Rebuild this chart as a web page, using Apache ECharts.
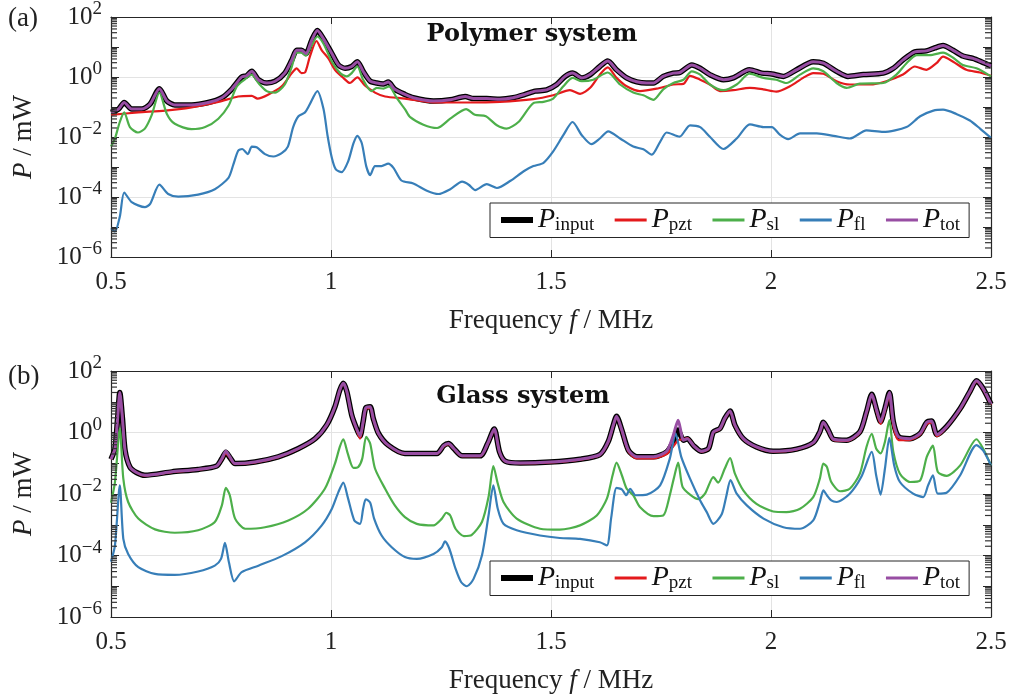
<!DOCTYPE html>
<html>
<head>
<meta charset="utf-8">
<script src="https://cdn.jsdelivr.net/npm/echarts@6/dist/echarts.min.js"></script>
<style>
  html, body { margin: 0; padding: 0; background: #fff; }
  #chart { width: 1010px; height: 696px; }
</style>
</head>
<body>
<div id="chart"></div>
<script>
// all power values are log10(P / mW)
var freqTicks = [0.5, 1, 1.5, 2, 2.5];
var seriesNames = ['input', 'pzt', 'sl', 'fl', 'tot'];
var seriesColors = ['#000000', '#e41a1c', '#4daf4a', '#377eb8', '#984ea3'];

// (a) polymer system
var polyTot = [[0.500,-1.18],[0.517,-1.07],[0.530,-0.85],[0.547,-1.07],[0.570,-1.07],[0.589,-0.90],[0.610,-0.39],[0.627,-0.80],[0.645,-0.93],[0.683,-0.93],[0.721,-0.85],[0.752,-0.69],[0.774,-0.41],[0.797,0.00],[0.808,0.04],[0.820,0.19],[0.835,-0.09],[0.854,-0.20],[0.873,-0.14],[0.895,0.13],[0.911,0.57],[0.922,0.89],[0.933,0.89],[0.943,0.78],[0.956,1.22],[0.969,1.55],[0.983,1.27],[1.002,0.78],[1.017,0.40],[1.032,0.29],[1.047,0.35],[1.060,0.51],[1.073,0.19],[1.089,-0.14],[1.104,-0.20],[1.119,-0.23],[1.130,-0.17],[1.145,-0.41],[1.168,-0.58],[1.187,-0.69],[1.233,-0.80],[1.271,-0.76],[1.305,-0.65],[1.324,-0.72],[1.354,-0.72],[1.384,-0.74],[1.414,-0.69],[1.441,-0.58],[1.464,-0.47],[1.490,-0.43],[1.513,-0.25],[1.532,0.02],[1.549,0.13],[1.570,-0.03],[1.589,0.08],[1.611,0.35],[1.629,0.53],[1.649,0.24],[1.672,-0.03],[1.695,-0.16],[1.717,-0.20],[1.733,-0.20],[1.755,0.02],[1.778,0.13],[1.793,0.15],[1.820,0.40],[1.839,0.29],[1.861,0.08],[1.892,-0.09],[1.914,-0.03],[1.951,0.24],[1.979,0.13],[2.002,0.10],[2.028,0.02],[2.058,0.24],[2.096,0.51],[2.119,0.46],[2.149,0.19],[2.175,0.02],[2.210,0.08],[2.255,0.13],[2.278,0.29],[2.300,0.57],[2.327,0.84],[2.353,0.87],[2.372,0.97],[2.391,1.05],[2.414,0.89],[2.436,0.70],[2.459,0.62],[2.478,0.51],[2.500,0.37]];
var polyPzt = [[0.500,-1.26],[0.562,-1.18],[0.623,-1.12],[0.683,-1.01],[0.744,-0.83],[0.789,-0.65],[0.820,-0.63],[0.833,-0.72],[0.858,-0.58],[0.888,-0.31],[0.911,0.13],[0.922,0.29],[0.933,0.13],[0.941,0.15],[0.952,0.68],[0.967,1.20],[0.979,0.89],[0.994,0.62],[1.009,0.24],[1.028,-0.03],[1.043,-0.20],[1.060,-0.01],[1.077,-0.28],[1.100,-0.52],[1.123,-0.65],[1.168,-0.72],[1.233,-0.85],[1.309,-0.85],[1.384,-0.83],[1.460,-0.74],[1.505,-0.61],[1.543,-0.44],[1.566,-0.56],[1.589,-0.36],[1.611,0.08],[1.629,0.32],[1.649,-0.03],[1.672,-0.31],[1.702,-0.47],[1.740,-0.39],[1.778,-0.25],[1.801,-0.23],[1.816,0.04],[1.839,-0.09],[1.861,-0.25],[1.884,-0.47],[1.914,-0.44],[1.952,-0.36],[1.982,-0.41],[2.012,-0.49],[2.043,-0.31],[2.073,-0.03],[2.096,0.13],[2.119,0.11],[2.149,-0.14],[2.179,-0.25],[2.225,-0.25],[2.262,-0.14],[2.300,0.08],[2.327,0.35],[2.353,0.24],[2.376,0.46],[2.391,0.68],[2.414,0.51],[2.444,0.24],[2.475,0.15],[2.500,0.04]];
var polySl = [[0.500,-2.32],[0.509,-2.05],[0.520,-1.50],[0.530,-1.18],[0.543,-1.67],[0.561,-1.85],[0.577,-1.72],[0.592,-1.29],[0.610,-0.52],[0.627,-1.23],[0.645,-1.56],[0.683,-1.74],[0.714,-1.67],[0.744,-1.39],[0.767,-0.96],[0.786,-0.31],[0.805,-0.07],[0.820,0.08],[0.835,-0.20],[0.854,-0.47],[0.873,-0.52],[0.895,-0.25],[0.911,0.35],[0.922,0.81],[0.933,0.81],[0.943,0.71],[0.956,1.06],[0.969,1.35],[0.983,1.11],[1.002,0.51],[1.021,0.13],[1.036,0.02],[1.047,0.13],[1.060,0.35],[1.073,-0.09],[1.092,-0.47],[1.104,-0.36],[1.119,-0.39],[1.132,-0.31],[1.149,-0.69],[1.168,-1.07],[1.180,-1.34],[1.210,-1.59],[1.241,-1.70],[1.271,-1.39],[1.307,-1.07],[1.327,-1.26],[1.352,-1.31],[1.377,-1.61],[1.399,-1.72],[1.426,-1.50],[1.460,-0.87],[1.483,-0.83],[1.505,-0.72],[1.528,-0.31],[1.549,-0.03],[1.570,-0.14],[1.596,-0.09],[1.629,0.15],[1.657,-0.25],[1.687,-0.52],[1.710,-0.61],[1.733,-0.76],[1.755,-0.41],[1.778,-0.20],[1.801,-0.09],[1.820,0.19],[1.839,0.08],[1.861,-0.25],[1.892,-0.44],[1.922,-0.25],[1.951,0.11],[1.983,-0.03],[2.012,-0.09],[2.035,-0.20],[2.066,0.08],[2.096,0.29],[2.119,0.19],[2.149,-0.20],[2.172,-0.36],[2.202,-0.22],[2.255,-0.20],[2.285,0.08],[2.308,0.46],[2.331,0.73],[2.361,0.73],[2.391,0.81],[2.414,0.64],[2.436,0.40],[2.467,0.29],[2.500,0.02]];
var polyFl = [[0.500,-5.04],[0.509,-5.15],[0.520,-4.66],[0.530,-3.85],[0.547,-4.17],[0.577,-4.34],[0.589,-4.23],[0.610,-3.59],[0.630,-3.90],[0.653,-3.99],[0.698,-3.92],[0.736,-3.74],[0.767,-3.36],[0.778,-2.92],[0.789,-2.46],[0.798,-2.40],[0.811,-2.57],[0.820,-2.32],[0.831,-2.34],[0.850,-2.57],[0.869,-2.65],[0.888,-2.54],[0.902,-2.32],[0.914,-1.67],[0.926,-1.31],[0.941,-1.18],[0.950,-0.96],[0.969,-0.47],[0.983,-1.07],[0.992,-1.94],[1.002,-2.70],[1.011,-3.08],[1.024,-3.17],[1.039,-2.81],[1.051,-2.21],[1.060,-1.96],[1.070,-2.21],[1.080,-2.97],[1.089,-3.27],[1.100,-2.97],[1.115,-2.97],[1.130,-2.89],[1.142,-3.03],[1.160,-3.45],[1.187,-3.55],[1.218,-3.79],[1.244,-3.90],[1.271,-3.74],[1.298,-3.49],[1.313,-3.59],[1.328,-3.77],[1.354,-3.57],[1.377,-3.70],[1.408,-3.46],[1.438,-3.14],[1.460,-2.97],[1.483,-2.86],[1.505,-2.48],[1.528,-1.94],[1.549,-1.50],[1.570,-1.94],[1.592,-2.24],[1.611,-2.05],[1.630,-1.81],[1.657,-2.05],[1.687,-2.32],[1.710,-2.41],[1.729,-2.59],[1.748,-2.16],[1.763,-1.85],[1.792,-1.99],[1.816,-1.61],[1.839,-1.67],[1.861,-1.99],[1.892,-2.40],[1.922,-2.05],[1.952,-1.58],[1.983,-1.67],[2.002,-1.67],[2.020,-1.92],[2.039,-2.07],[2.066,-1.88],[2.104,-1.88],[2.142,-1.96],[2.179,-2.05],[2.217,-1.78],[2.255,-1.83],[2.308,-1.67],[2.339,-1.31],[2.369,-1.12],[2.391,-1.09],[2.421,-1.23],[2.452,-1.45],[2.475,-1.72],[2.500,-2.03]];

// (b) glass system
var glassTot = [[0.500,-0.87],[0.509,-0.52],[0.515,0.46],[0.520,1.30],[0.526,0.46],[0.532,-0.58],[0.543,-1.12],[0.558,-1.30],[0.577,-1.39],[0.638,-1.28],[0.698,-1.20],[0.740,-1.09],[0.752,-0.85],[0.761,-0.61],[0.770,-0.79],[0.782,-1.01],[0.827,-0.96],[0.880,-0.79],[0.926,-0.52],[0.964,-0.20],[0.990,0.24],[1.009,0.84],[1.020,1.38],[1.028,1.60],[1.036,1.33],[1.047,0.57],[1.058,0.13],[1.066,-0.11],[1.073,0.35],[1.079,0.80],[1.089,0.84],[1.096,0.46],[1.108,-0.03],[1.130,-0.41],[1.168,-0.68],[1.202,-0.68],[1.241,-0.68],[1.256,-0.43],[1.267,-0.36],[1.279,-0.52],[1.298,-0.76],[1.339,-0.76],[1.356,-0.36],[1.371,0.11],[1.383,-0.63],[1.396,-0.93],[1.430,-0.99],[1.498,-0.96],[1.566,-0.87],[1.611,-0.72],[1.630,-0.30],[1.642,0.26],[1.649,0.53],[1.661,0.08],[1.676,-0.58],[1.695,-0.79],[1.733,-0.79],[1.763,-0.61],[1.778,-0.09],[1.789,0.40],[1.801,-0.25],[1.810,-0.20],[1.824,-0.43],[1.842,-0.61],[1.858,-0.52],[1.869,0.02],[1.884,0.13],[1.895,0.46],[1.907,0.70],[1.918,0.24],[1.937,-0.20],[1.967,-0.47],[2.005,-0.61],[2.058,-0.54],[2.096,-0.33],[2.111,0.02],[2.119,0.33],[2.130,0.08],[2.142,-0.22],[2.172,-0.25],[2.202,0.02],[2.217,0.67],[2.229,1.24],[2.240,0.73],[2.249,0.35],[2.259,0.78],[2.269,1.30],[2.278,0.35],[2.290,-0.14],[2.316,-0.20],[2.339,-0.03],[2.354,0.33],[2.365,0.37],[2.377,-0.07],[2.399,0.19],[2.430,0.78],[2.452,1.33],[2.467,1.68],[2.482,1.43],[2.500,0.92]];
var glassInput = [[0.500,-0.87],[0.509,-0.52],[0.515,0.46],[0.520,1.30],[0.526,0.46],[0.532,-0.58],[0.543,-1.12],[0.558,-1.30],[0.577,-1.39],[0.638,-1.28],[0.698,-1.20],[0.740,-1.09],[0.752,-0.85],[0.761,-0.64],[0.770,-0.81],[0.782,-1.01],[0.827,-0.96],[0.880,-0.79],[0.926,-0.52],[0.964,-0.20],[0.990,0.24],[1.009,0.84],[1.020,1.38],[1.028,1.60],[1.036,1.33],[1.047,0.57],[1.058,0.13],[1.066,-0.11],[1.073,0.35],[1.079,0.80],[1.089,0.84],[1.096,0.46],[1.108,-0.03],[1.130,-0.41],[1.168,-0.68],[1.202,-0.68],[1.241,-0.68],[1.256,-0.43],[1.267,-0.36],[1.279,-0.52],[1.298,-0.76],[1.339,-0.76],[1.356,-0.36],[1.371,0.11],[1.383,-0.63],[1.396,-0.93],[1.430,-0.99],[1.498,-0.96],[1.566,-0.87],[1.611,-0.72],[1.630,-0.30],[1.642,0.26],[1.649,0.53],[1.661,0.08],[1.676,-0.58],[1.695,-0.79],[1.733,-0.79],[1.763,-0.63],[1.778,-0.30],[1.789,0.08],[1.801,-0.25],[1.810,-0.20],[1.824,-0.43],[1.842,-0.61],[1.858,-0.52],[1.869,0.02],[1.884,0.13],[1.895,0.46],[1.907,0.70],[1.918,0.24],[1.937,-0.20],[1.967,-0.47],[2.005,-0.61],[2.058,-0.54],[2.096,-0.33],[2.111,0.02],[2.119,0.33],[2.130,0.08],[2.142,-0.22],[2.172,-0.25],[2.202,0.02],[2.217,0.67],[2.229,1.24],[2.240,0.73],[2.249,0.35],[2.259,0.78],[2.269,1.30],[2.278,0.35],[2.290,-0.14],[2.316,-0.20],[2.339,-0.03],[2.354,0.33],[2.365,0.37],[2.377,-0.07],[2.399,0.19],[2.430,0.78],[2.452,1.33],[2.467,1.68],[2.482,1.43],[2.500,0.92]];
var glassPzt = [[0.500,-0.87],[0.509,-0.52],[0.515,0.46],[0.520,1.30],[0.526,0.46],[0.532,-0.58],[0.543,-1.12],[0.558,-1.30],[0.577,-1.40],[0.638,-1.29],[0.698,-1.21],[0.740,-1.10],[0.752,-0.88],[0.761,-0.68],[0.770,-0.82],[0.782,-1.02],[0.827,-0.97],[0.880,-0.80],[0.926,-0.53],[0.964,-0.21],[0.990,0.23],[1.009,0.83],[1.020,1.37],[1.028,1.59],[1.036,1.32],[1.047,0.56],[1.058,0.10],[1.066,-0.20],[1.073,0.30],[1.079,0.76],[1.089,0.80],[1.096,0.44],[1.108,-0.05],[1.130,-0.42],[1.168,-0.69],[1.202,-0.69],[1.241,-0.69],[1.256,-0.45],[1.267,-0.38],[1.279,-0.53],[1.298,-0.77],[1.339,-0.77],[1.356,-0.38],[1.371,0.09],[1.383,-0.64],[1.396,-0.94],[1.430,-1.00],[1.498,-0.97],[1.566,-0.88],[1.611,-0.73],[1.630,-0.32],[1.642,0.24],[1.649,0.51],[1.661,0.05],[1.676,-0.62],[1.695,-0.84],[1.733,-0.84],[1.763,-0.70],[1.778,-0.45],[1.789,-0.25],[1.801,-0.22],[1.810,-0.18],[1.824,-0.43],[1.842,-0.62],[1.858,-0.53],[1.869,0.00],[1.884,0.11],[1.895,0.44],[1.907,0.68],[1.918,0.22],[1.937,-0.21],[1.967,-0.48],[2.005,-0.62],[2.058,-0.55],[2.096,-0.34],[2.111,0.00],[2.119,0.31],[2.130,0.06],[2.142,-0.24],[2.172,-0.27],[2.202,0.00],[2.217,0.64],[2.229,1.21],[2.240,0.68],[2.249,0.28],[2.259,0.72],[2.269,1.22],[2.278,0.22],[2.290,-0.25],[2.316,-0.24],[2.339,-0.06],[2.354,0.28],[2.365,0.32],[2.377,-0.12],[2.399,0.17],[2.430,0.76],[2.452,1.31],[2.467,1.66],[2.482,1.41],[2.500,0.90]];
var glassSl = [[0.500,-2.28],[0.509,-1.61],[0.520,0.13],[0.528,-1.50],[0.539,-2.26],[0.562,-2.80],[0.600,-3.15],[0.645,-3.26],[0.698,-3.18],[0.736,-2.91],[0.752,-2.37],[0.761,-1.80],[0.770,-2.04],[0.782,-2.80],[0.805,-3.13],[0.850,-3.08],[0.903,-2.86],[0.948,-2.48],[0.986,-1.83],[1.009,-1.01],[1.020,-0.47],[1.028,-0.22],[1.038,-0.68],[1.051,-1.15],[1.062,-1.12],[1.071,-0.85],[1.080,-0.14],[1.089,-0.36],[1.100,-1.17],[1.123,-1.83],[1.145,-2.37],[1.168,-2.75],[1.195,-2.97],[1.233,-3.02],[1.252,-2.80],[1.262,-2.61],[1.271,-2.70],[1.283,-3.13],[1.302,-3.37],[1.320,-3.33],[1.343,-2.91],[1.358,-2.10],[1.369,-1.09],[1.379,-1.66],[1.392,-2.26],[1.422,-2.80],[1.475,-3.13],[1.520,-3.16],[1.566,-3.02],[1.604,-2.70],[1.627,-2.15],[1.640,-1.39],[1.649,-0.98],[1.661,-1.39],[1.672,-1.83],[1.687,-2.04],[1.702,-2.42],[1.733,-2.72],[1.755,-2.70],[1.770,-2.04],[1.779,-1.50],[1.789,-0.98],[1.799,-1.77],[1.816,-2.02],[1.835,-2.17],[1.850,-1.99],[1.869,-1.45],[1.880,-1.63],[1.895,-1.17],[1.907,-0.83],[1.918,-1.34],[1.937,-1.88],[1.967,-2.32],[2.005,-2.57],[2.035,-2.59],[2.066,-2.48],[2.096,-2.10],[2.111,-1.50],[2.119,-1.01],[2.127,-1.12],[2.137,-1.61],[2.157,-1.91],[2.179,-1.83],[2.202,-1.34],[2.217,-0.47],[2.229,-0.04],[2.239,-0.52],[2.249,-0.68],[2.259,-0.30],[2.269,0.40],[2.278,-0.63],[2.293,-1.34],[2.316,-1.61],[2.339,-1.56],[2.354,-0.79],[2.368,-0.43],[2.379,-1.28],[2.399,-1.41],[2.430,-1.07],[2.467,-0.22],[2.482,-0.52],[2.500,-1.07]];
var glassFl = [[0.500,-4.20],[0.509,-3.67],[0.520,-1.72],[0.528,-3.46],[0.539,-3.95],[0.562,-4.38],[0.600,-4.60],[0.645,-4.63],[0.698,-4.52],[0.736,-4.33],[0.750,-4.11],[0.759,-3.59],[0.768,-4.22],[0.780,-4.84],[0.797,-4.54],[0.835,-4.33],[0.888,-4.02],[0.941,-3.57],[0.979,-3.02],[1.002,-2.48],[1.017,-1.93],[1.028,-1.63],[1.038,-2.10],[1.053,-2.86],[1.066,-2.97],[1.073,-2.48],[1.079,-2.17],[1.089,-2.28],[1.098,-2.80],[1.115,-3.35],[1.138,-3.73],[1.168,-4.05],[1.195,-4.11],[1.233,-3.95],[1.252,-3.73],[1.259,-3.54],[1.269,-3.78],[1.283,-4.43],[1.296,-4.87],[1.309,-5.00],[1.324,-4.76],[1.343,-4.00],[1.358,-2.70],[1.369,-1.72],[1.379,-2.48],[1.392,-2.97],[1.422,-3.18],[1.475,-3.35],[1.520,-3.43],[1.566,-3.46],[1.611,-3.57],[1.627,-3.67],[1.637,-2.75],[1.649,-1.80],[1.661,-1.85],[1.671,-2.04],[1.680,-1.83],[1.692,-2.04],[1.718,-2.02],[1.748,-1.72],[1.770,-0.85],[1.783,-0.03],[1.796,-0.79],[1.816,-1.50],[1.839,-2.21],[1.854,-2.59],[1.869,-2.97],[1.888,-2.66],[1.898,-2.10],[1.908,-1.55],[1.922,-1.99],[1.945,-2.37],[1.983,-2.80],[2.028,-3.08],[2.066,-3.13],[2.096,-2.86],[2.111,-2.26],[2.119,-1.88],[2.127,-2.04],[2.137,-2.21],[2.149,-2.26],[2.179,-1.99],[2.205,-1.45],[2.229,-0.63],[2.239,-1.39],[2.249,-2.02],[2.259,-1.17],[2.269,-0.17],[2.280,-1.07],[2.293,-1.61],[2.323,-1.99],[2.346,-2.10],[2.357,-1.72],[2.368,-1.39],[2.379,-1.99],[2.399,-1.96],[2.430,-1.39],[2.467,-0.41],[2.482,-0.58],[2.500,-1.07]];

var FONT = 'Liberation Serif';
var AXC = '#262626';

function toPts(arr) {
    return arr.map(function (p) { return [p[0], Math.pow(10, p[1])]; });
}

// minor ticks of the log axis: 2..9 times each decade
var minorTickVals = [];
for (var n = -6; n < 2; n++) {
    for (var k = 2; k <= 9; k++) minorTickVals.push([0.5, k * Math.pow(10, n)]);
}

function yLabel(v) {
    var e = Math.round(Math.log(v) / Math.LN10);
    if (e % 2 !== 0) return '';
    return '{b|10}{s|' + (e < 0 ? '\u2212' + (-e) : e) + '}';
}

function xAxes(g) {
    return [{
        type: 'value', gridIndex: g, position: 'bottom', min: 0.5, max: 2.5, interval: 0.5,
        axisLine: {lineStyle: {color: AXC, width: 1.2}},
        axisTick: {inside: true, length: 7, lineStyle: {color: AXC}},
        axisLabel: {color: '#222', fontFamily: FONT, fontSize: 25, margin: 13},
        splitLine: {show: true, lineStyle: {color: '#e3e3e3'}},
        name: '{n|Frequency }{i|f}{n| / MHz}',
        nameLocation: 'middle', nameGap: 50,
        nameTextStyle: {rich: {
            n: {fontFamily: FONT, fontSize: 27, color: '#222'},
            i: {fontFamily: FONT, fontSize: 27, fontStyle: 'italic', color: '#222'}
        }}
    }, {
        type: 'value', gridIndex: g, position: 'top', min: 0.5, max: 2.5, interval: 0.5,
        axisLine: {lineStyle: {color: AXC, width: 1.2}},
        axisTick: {inside: true, length: 7, lineStyle: {color: AXC}},
        axisLabel: {show: false},
        splitLine: {show: false}
    }];
}

function yAxes(g) {
    return [{
        type: 'log', logBase: 10, gridIndex: g, position: 'left', min: 1e-6, max: 100,
        axisLine: {show: true, lineStyle: {color: AXC, width: 1.2}},
        axisTick: {inside: true, length: 8, lineStyle: {color: AXC}},
        axisLabel: {
            formatter: yLabel, margin: 9,
            rich: {
                b: {fontFamily: FONT, fontSize: 25, color: '#222'},
                s: {fontFamily: FONT, fontSize: 19, color: '#222', padding: [0, 0, 15, 0]}
            }
        },
        splitLine: {show: true, lineStyle: {color: ['#e3e3e3', 'rgba(0,0,0,0)']}},
        name: '{i|P}{n| / mW}',
        nameLocation: 'middle', nameGap: 74,
        nameTextStyle: {rich: {
            n: {fontFamily: FONT, fontSize: 27, color: '#222'},
            i: {fontFamily: FONT, fontSize: 27, fontStyle: 'italic', color: '#222'}
        }}
    }, {
        type: 'log', logBase: 10, gridIndex: g, position: 'right', min: 1e-6, max: 100,
        axisLine: {show: true, lineStyle: {color: AXC, width: 1.2}},
        axisTick: {inside: true, length: 8, lineStyle: {color: AXC}},
        axisLabel: {show: false},
        splitLine: {show: false}
    }];
}

function minorTicks(g) {
    return {
        type: 'custom', coordinateSystem: 'cartesian2d',
        xAxisIndex: g * 2, yAxisIndex: g * 2, silent: true, clip: false,
        dimensions: ['f', 'p'], encode: {x: 0, y: 1},
        data: minorTickVals, z: 5,
        renderItem: function (params, api) {
            var v = api.value(1);
            var l = api.coord([0.5, v]);
            var r = api.coord([2.5, v]);
            return {type: 'group', children: [
                {type: 'line', shape: {x1: l[0], y1: l[1], x2: l[0] + 6, y2: l[1]}, style: {stroke: '#333', lineWidth: 1.2}},
                {type: 'line', shape: {x1: r[0] - 6, y1: r[1], x2: r[0], y2: r[1]}, style: {stroke: '#333', lineWidth: 1.2}}
            ]};
        }
    };
}

var widths = [5.5, 2.2, 2.2, 2.2, 3];

function panelSeries(g, sets) {
    return sets.map(function (d, i) {
        return {
            name: seriesNames[i], type: 'line', xAxisIndex: g * 2, yAxisIndex: g * 2,
            data: toPts(d), showSymbol: false, symbol: 'none', smooth: 0.25,
            lineStyle: {color: seriesColors[i], width: widths[i]},
            itemStyle: {color: seriesColors[i]},
            z: 2, silent: true
        };
    });
}

function legendAt(top) {
    return {
        left: 490, top: top, orient: 'horizontal',
        data: seriesNames.map(function (nm, i) {
            return {name: nm, lineStyle: {color: seriesColors[i], width: i === 0 ? 6 : 3}};
        }),
        backgroundColor: '#fff', borderColor: AXC, borderWidth: 1,
        padding: [3, 9, 3, 8], itemGap: 19, itemWidth: 32, itemHeight: 14,
        itemStyle: {opacity: 0},
        formatter: function (name) { return '{p|P}{s|' + name + '}'; },
        textStyle: {rich: {
            p: {fontFamily: FONT, fontSize: 28, fontStyle: 'italic', color: '#111'},
            s: {fontFamily: FONT, fontSize: 19, color: '#111', padding: [10, 0, 0, 0]}
        }}
    };
}

var chart = echarts.init(document.getElementById('chart'), null, {renderer: 'canvas'});
var option = {
    backgroundColor: '#fff',
    animation: false,
    title: [
        {text: '(a)', left: 3, top: 0, textStyle: {fontFamily: FONT, fontSize: 27, fontWeight: 'normal', color: '#222'}},
        {text: '(b)', left: 3, top: 358, textStyle: {fontFamily: FONT, fontSize: 27, fontWeight: 'normal', color: '#222'}},
        {text: 'Polymer system', left: 527, top: 18, textAlign: 'center', textStyle: {fontFamily: 'DejaVu Serif', fontSize: 24, fontWeight: 'bold', color: '#111'}},
        {text: 'Glass system', left: 518, top: 380, textAlign: 'center', textStyle: {fontFamily: 'DejaVu Serif', fontSize: 24, fontWeight: 'bold', color: '#111'}}
    ],
    grid: [
        {left: 111, right: 19, top: 13, height: 244},
        {left: 111, right: 19, top: 371, height: 246}
    ],
    xAxis: xAxes(0).concat(xAxes(1)),
    yAxis: yAxes(0).concat(yAxes(1)),
    legend: [legendAt(203), legendAt(561)],
    series: panelSeries(0, [polyTot, polyPzt, polySl, polyFl, polyTot])
        .concat(panelSeries(1, [glassInput, glassPzt, glassSl, glassFl, glassTot]))
        .concat([minorTicks(0), minorTicks(1)])
};
chart.setOption(option);
</script>
</body>
</html>
